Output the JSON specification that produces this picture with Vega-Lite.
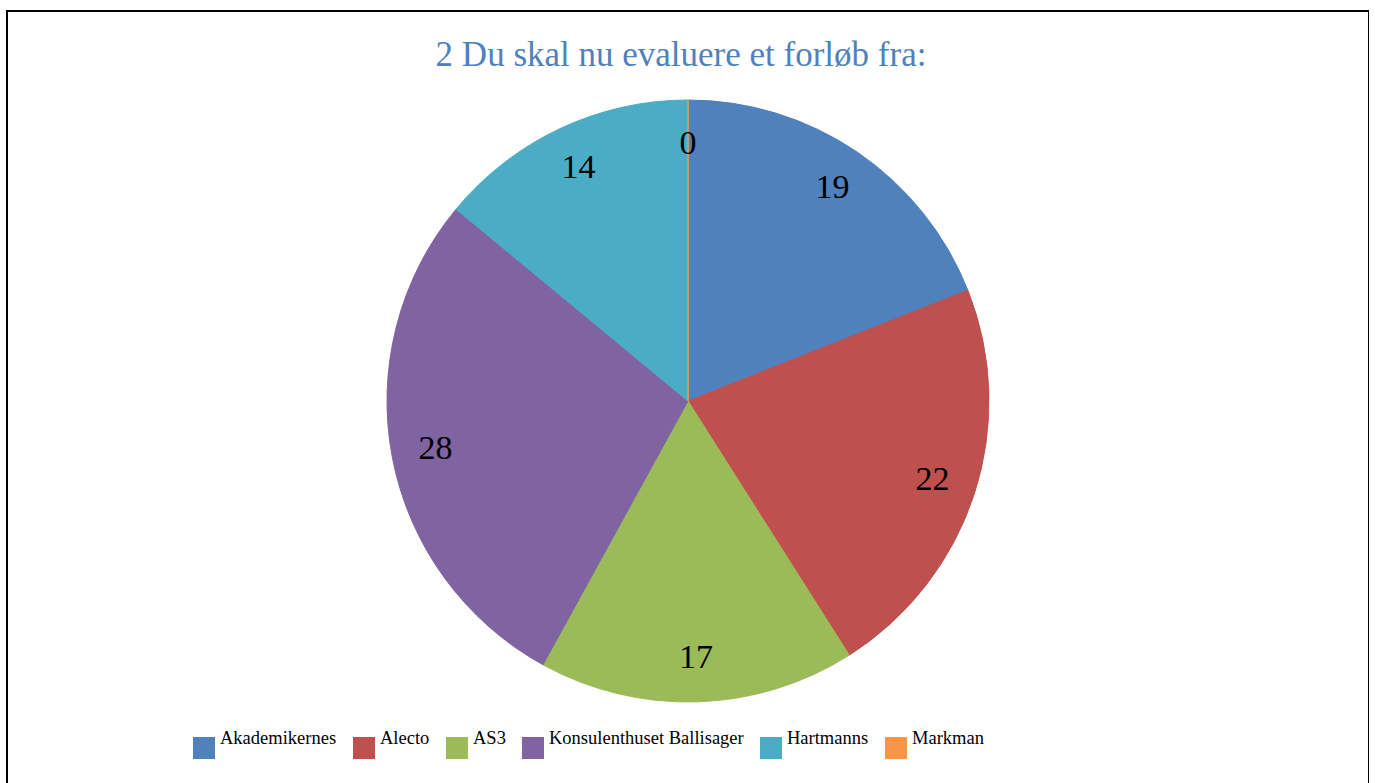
{
  "$schema": "https://vega.github.io/schema/vega-lite/v6.json",
  "autosize": "none",
  "width": 1362,
  "height": 780,
  "padding": {"left": 7, "top": 11, "right": 0, "bottom": 0},
  "background": "white",
  "view": {"stroke": "black", "strokeWidth": 2, "fill": "white"},
  "config": {
    "font": "Liberation Serif"
  },
  "title": {
    "text": "2 Du skal nu evaluere et forløb fra:",
    "font": "Liberation Serif",
    "fontSize": 35,
    "fontWeight": "normal",
    "color": "#4F81BD",
    "anchor": "middle",
    "baseline": "alphabetic",
    "offset": -57,
    "dx": -7,
    "dy": 33
  },
  "data": {
    "values": [
      {"name": "Akademikernes", "count": 19, "i": 1},
      {"name": "Alecto", "count": 22, "i": 2},
      {"name": "AS3", "count": 17, "i": 3},
      {"name": "Konsulenthuset Ballisager", "count": 28, "i": 4},
      {"name": "Hartmanns", "count": 14, "i": 5},
      {"name": "Markman", "count": 0, "i": 6}
    ]
  },
  "encoding": {
    "theta": {"field": "count", "type": "quantitative", "stack": true},
    "order": {"field": "i", "type": "quantitative"}
  },
  "layer": [
    {
      "mark": {"type": "arc", "outerRadius": 301, "strokeWidth": 1},
      "encoding": {
        "color": {
          "field": "name",
          "type": "nominal",
          "sort": ["Akademikernes", "Alecto", "AS3", "Konsulenthuset Ballisager", "Hartmanns", "Markman"],
          "scale": {
            "domain": ["Akademikernes", "Alecto", "AS3", "Konsulenthuset Ballisager", "Hartmanns", "Markman"],
            "range": ["#4F81BD", "#C0504D", "#9BBB59", "#8064A2", "#4BACC6", "#F79646"]
          },
          "legend": {
            "title": null,
            "orient": "none",
            "legendX": 186,
            "legendY": 726,
            "direction": "horizontal",
            "padding": 0,
            "symbolType": "square",
            "symbolSize": 484,
            "symbolStrokeWidth": 0,
            "labelFont": "Liberation Serif",
            "labelFontSize": 18.5,
            "labelColor": "black",
            "labelBaseline": "bottom",
            "labelOffset": 5,
            "columnPadding": 16,
            "labelLimit": 400
          }
        },
        "stroke": {
          "field": "name",
          "type": "nominal",
          "scale": {
            "domain": ["Akademikernes", "Alecto", "AS3", "Konsulenthuset Ballisager", "Hartmanns", "Markman"],
            "range": ["#4F81BD", "#C0504D", "#9BBB59", "#8064A2", "#4BACC6", "#F79646"]
          },
          "legend": null
        }
      }
    },
    {
      "mark": {"type": "text", "radius": 257, "font": "Liberation Serif", "fontSize": 34, "color": "black"},
      "encoding": {
        "text": {"field": "count", "type": "quantitative"}
      }
    }
  ]
}
